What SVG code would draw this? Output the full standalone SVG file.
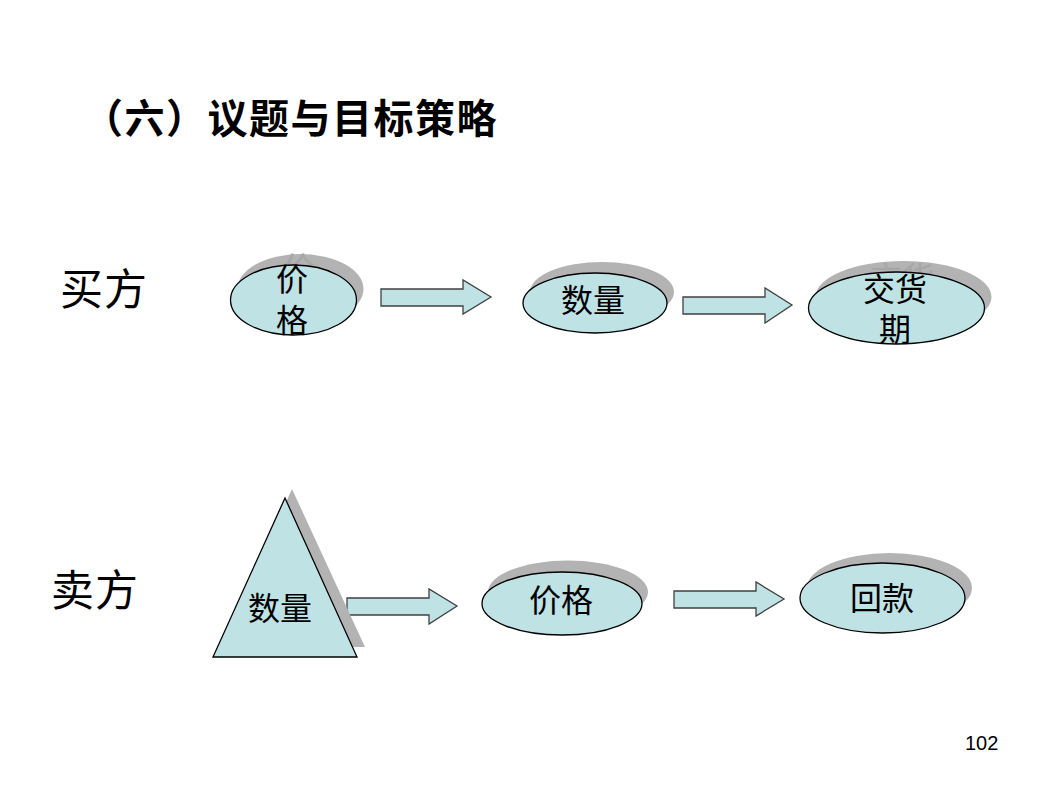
<svg xmlns="http://www.w3.org/2000/svg" width="1064" height="796" viewBox="0 0 1064 796">
<style>
.title{font-family:"Noto Sans CJK SC","Noto Sans",sans-serif;font-weight:bold;font-size:40px;letter-spacing:1.5px;fill:#000}
.side{font-family:"Noto Sans CJK SC",sans-serif;font-size:43px;letter-spacing:1px;fill:#000}
.lbl{font-family:"Liberation Serif","Noto Sans CJK SC",serif;font-size:32px;fill:#000;text-anchor:middle}
.ghost{font-family:"Liberation Serif","Noto Sans CJK SC",serif;font-size:32px;fill:#a6a6a6;text-anchor:middle}
.shape{fill:#bfe3e4;stroke:#000;stroke-width:1.3}
.shadow{fill:#b3b3b3}
.arrow{fill:#bfe3e4;stroke:#404040;stroke-width:1.3}
.page{font-family:"Liberation Sans",Arial,sans-serif;font-size:20px;fill:#000}
</style>
<rect width="1064" height="796" fill="#fff"/>
<text class="title" x="83" y="133">（六）议题与目标策略</text>
<text class="side" x="60" y="305">买方</text>
<text class="side" x="51" y="606">卖方</text>
<text class="page" x="965" y="750">102</text>

<g id="connectors">
<polygon class="arrow" points="381,289 463,289 463,280 491,297 463,314 463,306 381,306"/>
<polygon class="arrow" points="683,297 765,297 765,288 792,305 765,323 765,314 683,314"/>
<polygon class="arrow" points="347,598 429,598 429,589 457,606 429,624 429,615 347,615"/>
<polygon class="arrow" points="674,591 756,591 756,582 784,599 756,616 756,608 674,608"/>
</g>

<g id="buyer-price">
<ellipse class="shadow" cx="300.500" cy="289" rx="63" ry="35"/>
<text class="ghost" x="299" y="280">价</text>
<ellipse class="shape" cx="293.500" cy="300" rx="63" ry="35"/>
<text class="lbl" x="292" y="291">价</text>
<text class="lbl" x="292" y="332">格</text>
</g>

<g id="buyer-quantity">
<ellipse class="shadow" cx="602" cy="292" rx="72" ry="30"/>
<ellipse class="shape" cx="595" cy="303" rx="72" ry="30"/>
<text class="lbl" x="593" y="312">数量</text>
</g>

<g id="buyer-delivery">
<ellipse class="shadow" cx="903.500" cy="297" rx="88" ry="36"/>
<text class="ghost" x="902" y="290">交货</text>
<ellipse class="shape" cx="896.500" cy="308" rx="88" ry="36"/>
<text class="lbl" x="895" y="301">交货</text>
<text class="lbl" x="895" y="341">期</text>
</g>

<g id="seller-quantity">
<polygon class="shadow" points="292,489 365,647 220,648"/>
<polygon class="shape" points="285,498 357,657 213,657"/>
<text class="lbl" x="280" y="620">数量</text>
</g>

<g id="seller-price">
<ellipse class="shadow" cx="568" cy="592" rx="80" ry="31.500"/>
<ellipse class="shape" cx="562" cy="603.500" rx="80" ry="31.500"/>
<text class="lbl" x="561" y="612">价格</text>
</g>

<g id="seller-payment">
<ellipse class="shadow" cx="889.500" cy="588" rx="82.500" ry="35"/>
<ellipse class="shape" cx="882.500" cy="598" rx="82.500" ry="35"/>
<text class="lbl" x="882" y="610">回款</text>
</g>
</svg>
